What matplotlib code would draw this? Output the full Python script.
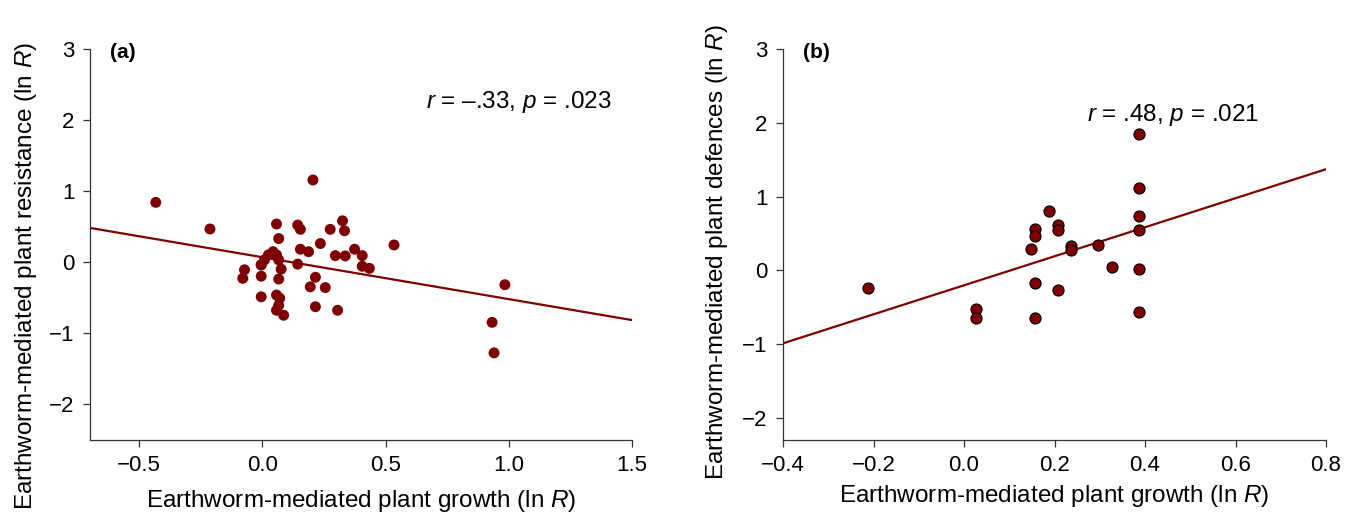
import numpy as np
import matplotlib.pyplot as plt

plt.rcParams['font.family'] = ['Liberation Sans', 'DejaVu Sans']
plt.rcParams['mathtext.fontset'] = 'custom'
plt.rcParams['mathtext.rm'] = 'Liberation Sans'
plt.rcParams['mathtext.it'] = 'Liberation Sans:italic'

# panel (a): growth vs resistance
growth_a = [-0.433, -0.213, 0.205, 0.534, 0.984, 0.932, 0.94,
            -0.08, -0.073, -0.005, -0.005, -0.005, 0.057, 0.066, 0.066,
            0.057, 0.07, 0.066, 0.057, 0.086,
            -0.005, 0.008, 0.024, 0.043, 0.057, 0.066, 0.076,
            0.143, 0.154, 0.154, 0.187, 0.143, 0.235, 0.275, 0.325, 0.333,
            0.296, 0.336, 0.374, 0.405, 0.405, 0.434,
            0.215, 0.194, 0.255, 0.215, 0.305]
resist_a = [0.84, 0.465, 1.155, 0.24, -0.32, -0.85, -1.28,
            -0.23, -0.11, -0.20, -0.49, -0.04, 0.535, 0.33, -0.24,
            -0.465, -0.51, -0.61, -0.68, -0.75,
            -0.04, 0.03, 0.10, 0.145, 0.10, 0.03, -0.10,
            0.52, 0.46, 0.18, 0.145, -0.03, 0.26, 0.46, 0.58, 0.44,
            0.09, 0.085, 0.18, 0.09, -0.06, -0.09,
            -0.215, -0.35, -0.36, -0.63, -0.68]
fit_a = (0.067, -0.59)  # intercept, slope

# panel (b): growth vs defences
growth_b = [-0.213, 0.027, 0.027, 0.147, 0.157, 0.157, 0.157, 0.157,
            0.188, 0.207, 0.207, 0.207, 0.237, 0.237, 0.296, 0.326,
            0.387, 0.387, 0.387, 0.387, 0.387, 0.387]
defence_b = [-0.24, -0.52, -0.64, 0.29, 0.56, 0.46, -0.17, -0.65,
             0.80, 0.61, 0.54, -0.27, 0.33, 0.27, 0.34, 0.05,
             1.85, 1.11, 0.74, 0.55, 0.02, -0.56]
fit_b = (-0.203, 1.967)

red = '#7f0000'
W, H = 1354, 521
fig = plt.figure(figsize=(W / 100, H / 100), dpi=100)
ax1 = fig.add_axes([90 / W, 1 - 439.5 / H, 542 / W, 390.5 / H])
ax2 = fig.add_axes([783 / W, 1 - 440 / H, 543 / W, 391 / H])


def style(ax):
    for s in ['top', 'right']:
        ax.spines[s].set_visible(False)
    for s in ['left', 'bottom']:
        ax.spines[s].set_color('#333333')
        ax.spines[s].set_linewidth(0.9)
    ax.tick_params(direction='out', length=5, width=0.9, color='#333333',
                   labelsize=16, pad=6)


# (a)
ax1.scatter(growth_a, resist_a, s=62, color=red, edgecolors='none', zorder=3)
xl = np.array([-0.7, 1.5])
ax1.plot(xl, fit_a[0] + fit_a[1] * xl, color=red, lw=1.6, zorder=2)
ax1.set_xlim(-0.7, 1.5)
ax1.set_ylim(-2.5, 3)
ax1.set_xticks([-0.5, 0.0, 0.5, 1.0, 1.5])
ax1.set_xticklabels(['\u22120.5', '0.0', '0.5', '1.0', '1.5'])
ax1.set_yticks([-2, -1, 0, 1, 2, 3])
ax1.set_yticklabels(['\u22122', '\u22121', '0', '1', '2', '3'])
style(ax1)
ax1.set_xlabel('Earthworm-mediated plant growth (ln $\\mathit{R}$)', fontsize=17.5, labelpad=9)
ax1.set_ylabel('Earthworm-mediated plant resistance (ln $\\mathit{R}$)', fontsize=17.5)
ax1.yaxis.set_label_coords(-0.094, 0.42)
ax1.text(0.037, 0.99, '(a)', transform=ax1.transAxes, fontsize=15,
         fontweight='bold', va='center')
ax1.text(0.62, 0.865, '$r$ = \u2013.33, $p$ = .023', transform=ax1.transAxes,
         fontsize=17.5, va='center')

# (b)
ax2.scatter(growth_b, defence_b, s=64, color=red, edgecolors='black',
            linewidths=0.8, zorder=3)
xl = np.array([-0.4, 0.8])
ax2.plot(xl, fit_b[0] + fit_b[1] * xl, color=red, lw=1.6, zorder=2)
ax2.set_xlim(-0.4, 0.8)
ax2.set_ylim(-2.3, 3)
ax2.set_xticks([-0.4, -0.2, 0.0, 0.2, 0.4, 0.6, 0.8])
ax2.set_xticklabels(['\u22120.4', '\u22120.2', '0.0', '0.2', '0.4', '0.6', '0.8'])
ax2.set_yticks([-2, -1, 0, 1, 2, 3])
ax2.set_yticklabels(['\u22122', '\u22121', '0', '1', '2', '3'])
style(ax2)
ax2.set_xlabel('Earthworm-mediated plant growth (ln $\\mathit{R}$)', fontsize=17.5, labelpad=5)
ax2.set_ylabel('Earthworm-mediated plant defences (ln $\\mathit{R}$)', fontsize=17.5)
ax2.yaxis.set_label_coords(-0.098, 0.48)
ax2.text(0.037, 0.99, '(b)', transform=ax2.transAxes, fontsize=15,
         fontweight='bold', va='center')
ax2.text(0.56, 0.83, '$r$ = .48, $p$ = .021', transform=ax2.transAxes,
         fontsize=17.5, va='center')

fig.savefig('out.png', dpi=100)
